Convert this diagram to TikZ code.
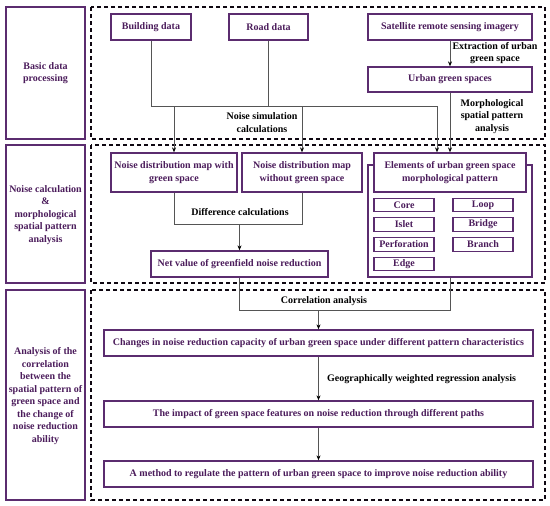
\documentclass[tikz,border=0pt]{standalone}
\usepackage{fontspec}
\setmainfont{Liberation Serif}
\usetikzlibrary{arrows.meta}
\definecolor{pborder}{HTML}{5B2C6F}
\definecolor{ptext}{HTML}{4B1C5B}
\definecolor{conn}{HTML}{555555}
\begin{document}
\begin{tikzpicture}[x=1pt,y=-1pt,
  every node/.style={font=\fontsize{10}{12.5}\selectfont\bfseries},
  box/.style={draw=pborder,line width=1.3pt,fill=white,text=ptext,inner sep=1pt,align=center},
  small/.style={box,line width=1.1pt,minimum width=60,minimum height=13.5},
  side/.style={draw=pborder,line width=1.5pt,text=ptext,align=center},
  frame/.style={draw=black!85!pborder,line width=1.2pt,dash pattern=on 4pt off 3pt},
  lab/.style={text=black,align=center,inner sep=0pt},
  link/.style={draw=conn,line width=0.7pt},
  arr/.style={link,-{Stealth[length=5pt,width=4pt,color=black]}}]
\useasboundingbox (0,0) rectangle (550,506);
% side boxes
\draw[side] (6,7) rectangle (85,139);
\draw[side] (6,145) rectangle (85,283);
\draw[side] (6,290) rectangle (85,500);
\node[text=ptext,align=center] (s1) at (45.5,73) {Basic data\\processing};
\node[text=ptext,align=center] (s2) at (45.5,215) {Noise calculation\\\&\\morphological\\spatial pattern\\analysis};
\node[text=ptext,align=center] (s3) at (45.5,396) {Analysis of the\\correlation\\between the\\spatial pattern of\\green space and\\the change of\\noise reduction\\ability};
% dashed frames
\draw[frame] (91,7) rectangle (545,139);
\draw[frame] (91,145) rectangle (545,283);
\draw[frame] (91,290) rectangle (545,500);
% row 1
\node[box,minimum width=80,minimum height=26] (bd) at (151,27) {Building data};
\node[box,minimum width=79,minimum height=26] (rd) at (268.5,27) {Road data};
\node[box,minimum width=164,minimum height=26] (sat) at (450,27) {Satellite remote sensing imagery};
\node[box,minimum width=164,minimum height=25] (ugs) at (450,79.5) {Urban green spaces};
\coordinate (j1) at (151,106);
\coordinate (j2) at (437,106);
\coordinate (ja) at (174,106);
\coordinate (jb) at (302,106);
\coordinate (jr) at (268.5,106);
% row 2
\node[box,minimum width=164,minimum height=112] (outer) at (450,221) {};
\node[box,minimum width=126,minimum height=39] (wg) at (174,172.5) {Noise distribution map with\\green space};
\node[box,minimum width=120,minimum height=39] (wog) at (302,172.5) {Noise distribution map\\without green space};
\node[box,minimum width=152,minimum height=39] (el) at (450,172.5) {Elements of urban green space\\morphological pattern};
\node[small] (core) at (404,205) {Core};
\node[small] (loop) at (483,205) {Loop};
\node[small] (islet) at (404,224.5) {Islet};
\node[small] (bridge) at (483,224.5) {Bridge};
\node[small] (perf) at (404,244.5) {Perforation};
\node[small] (branch) at (483,244.5) {Branch};
\node[small] (edge) at (404,264) {Edge};
\node[box,minimum width=177,minimum height=26] (net) at (239.5,264) {Net value of greenfield noise reduction};
% row 3
\node[box,minimum width=429,minimum height=26] (chg) at (318.5,343) {Changes in noise reduction capacity of urban green space under different pattern characteristics};
\node[box,minimum width=429,minimum height=26] (imp) at (318.5,414) {The impact of green space features on noise reduction through different paths};
\node[box,minimum width=429,minimum height=26] (met) at (318.5,474) {A method to regulate the pattern of urban green space to improve noise reduction ability};
% connectors row1
\draw[link] (bd.south) -- (j1) -- (j2);
\draw[link] (rd.south) -- (jr);
\draw[arr] (sat.south) -- (ugs.north);
\draw[arr] (ja) -- (wg.north);
\draw[arr] (jb) -- (wog.north);
\draw[arr] (j2) -- (j2 |- el.north);
\draw[arr] (ugs.south) -- (el.north);
\node[lab] (l1) at (495,53) {Extraction of urban\\green space};
\node[lab] (l2) at (262,122.5) {Noise simulation\\calculations};
\node[lab] (l3) at (492,116.5) {Morphological\\spatial pattern\\analysis};
% connectors row2
\coordinate (d1) at (174,224);
\coordinate (d2) at (302,224);
\coordinate (dm) at (239.5,224);
\draw[link] (wg.south) -- (d1) -- (d2) -- (wog.south);
\draw[arr] (dm) -- (net.north);
\node[lab] (l4) at (240,212) {Difference calculations};
% connectors row3
\coordinate (c1) at (239.5,310);
\coordinate (c2) at (450,310);
\coordinate (cm) at (318.5,310);
\draw[link] (net.south) -- (c1) -- (c2) -- (outer.south);
\draw[arr] (cm) -- (chg.north);
\node[lab] (l5) at (324,301) {Correlation analysis};
\draw[arr] (chg.south) -- (imp.north);
\node[lab,anchor=west] (l6) at (327,379) {Geographically weighted regression analysis};
\draw[arr] (imp.south) -- (met.north);
\end{tikzpicture}
\end{document}
